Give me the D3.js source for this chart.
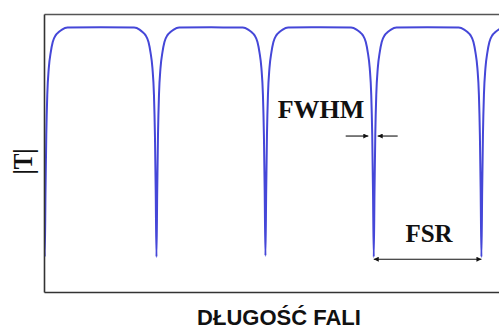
<!DOCTYPE html>
<html>
<head>
<meta charset="utf-8">
<script src="https://cdn.jsdelivr.net/npm/d3@7"></script>
<style>
  html, body { margin: 0; padding: 0; background: #fff; overflow: hidden; }
  svg { display: block; }
</style>
</head>
<body>
<svg id="chart" width="499" height="329"></svg>
<script>
// ---- data (arbitrary wavelength units, |T| 0..1) ----
const wavelength = [
  -0.176, -0.121, -0.094, -0.066, -0.048, -0.030, -0.016, -0.007, 0.000, 0.007, 0.014, 0.021, 0.030, 0.044, 0.062, 0.080, 0.108, 0.135, 0.165, 0.215,
  0.520,
  0.825, 0.875, 0.902, 0.929, 0.957, 0.975, 0.993, 1.007, 1.016, 1.023, 1.030, 1.037, 1.044, 1.053, 1.067, 1.085, 1.103, 1.131, 1.158, 1.188, 1.238,
  1.530,
  1.820, 1.870, 1.900, 1.927, 1.955, 1.973, 1.991, 2.005, 2.014, 2.021, 2.028, 2.035, 2.042, 2.051, 2.065, 2.083, 2.101, 2.129, 2.156, 2.186, 2.236,
  2.525,
  2.812, 2.862, 2.892, 2.919, 2.947, 2.965, 2.983, 2.997, 3.006, 3.013, 3.020, 3.027, 3.034, 3.043, 3.057, 3.075, 3.093, 3.121, 3.148, 3.178, 3.228,
  3.510,
  3.798, 3.848, 3.878, 3.905, 3.933, 3.951, 3.969, 3.983, 3.992, 3.999, 4.006, 4.013, 4.020, 4.029, 4.043, 4.061, 4.079, 4.107, 4.134, 4.164, 4.214,
  4.230
];
const transmission = [
  0.944, 0.935, 0.924, 0.899, 0.863, 0.806, 0.709, 0.565, 0.367, 0.126, 0.367, 0.565, 0.709, 0.806, 0.863, 0.899, 0.924, 0.935, 0.944, 0.951,
  0.952,
  0.951, 0.944, 0.935, 0.924, 0.899, 0.863, 0.806, 0.709, 0.565, 0.367, 0.126, 0.367, 0.565, 0.709, 0.806, 0.863, 0.899, 0.924, 0.935, 0.944, 0.951,
  0.952,
  0.951, 0.944, 0.935, 0.924, 0.899, 0.863, 0.806, 0.709, 0.565, 0.367, 0.130, 0.367, 0.565, 0.709, 0.806, 0.863, 0.899, 0.924, 0.935, 0.944, 0.951,
  0.952,
  0.951, 0.944, 0.935, 0.924, 0.899, 0.863, 0.806, 0.709, 0.565, 0.367, 0.126, 0.367, 0.565, 0.709, 0.806, 0.863, 0.899, 0.924, 0.935, 0.944, 0.951,
  0.952,
  0.951, 0.944, 0.935, 0.924, 0.899, 0.863, 0.806, 0.709, 0.565, 0.367, 0.126, 0.367, 0.565, 0.709, 0.806, 0.863, 0.899, 0.924, 0.935, 0.944, 0.951,
  0.952
];

// annotations (data units)
const fwhmLabel = "FWHM";
const fwhmAt = [2.537, 0.626];                 // label centre, baseline
const fwhmArrows = [[2.763, 2.970, 0.561],     // from, to (head), level
                    [3.239, 3.056, 0.561]];
const fsrLabel = "FSR";
const fsrAt = [3.526, 0.179];
const fsrSpan = [3.020, 4.006, 0.118];          // between two dips, level

const xLabel = "DŁUGOŚĆ FALI";
const yLabel = "|T|";
const xDomain = [0, 4.2];
const yDomain = [0, 1];

// ---- drawing ----
const svg = d3.select("#chart");
const x = d3.scaleLinear().domain(xDomain).range([44, 502.6]);
const y = d3.scaleLinear().domain(yDomain).range([292, 14]);

const defs = svg.append("defs");
defs.append("clipPath").attr("id", "plotclip")
  .append("rect")
  .attr("x", x(xDomain[0])).attr("y", y(yDomain[1]))
  .attr("width", x(xDomain[1]) - x(xDomain[0]))
  .attr("height", y(yDomain[0]) - y(yDomain[1]));

const mk = (id, orient) => defs.append("marker")
  .attr("id", id).attr("viewBox", "0 0 10 10")
  .attr("refX", 10).attr("refY", 5)
  .attr("markerWidth", 7).attr("markerHeight", 5)
  .attr("markerUnits", "userSpaceOnUse")
  .attr("orient", orient)
  .append("path").attr("d", "M0,0 L10,5 L0,10 Z").attr("fill", "#111");
mk("arrowEnd", "auto");
mk("arrowStart", "auto-start-reverse");

// curve
const pts = wavelength.map((w, i) => [w, transmission[i]]);
const line = d3.line().x(d => x(d[0])).y(d => y(d[1])).curve(d3.curveMonotoneX);
svg.append("path")
  .attr("clip-path", "url(#plotclip)")
  .attr("d", line(pts))
  .attr("fill", "none")
  .attr("stroke", "#4547d8")
  .attr("stroke-width", 2)
  .attr("stroke-linejoin", "round");

// frame (axes without ticks)
const frameStyle = g => {
  g.selectAll(".tick").remove();
  g.select(".domain").attr("stroke", "#333").attr("stroke-width", 1.6);
};
svg.append("g").attr("transform", `translate(0,${y(0)})`)
  .call(d3.axisBottom(x).ticks(0).tickSizeOuter(0)).call(frameStyle);
svg.append("g").attr("transform", `translate(0,${y(1)})`)
  .call(d3.axisTop(x).ticks(0).tickSizeOuter(0)).call(frameStyle)
  .select(".domain").attr("stroke", "#555").attr("stroke-width", 1.3);
svg.append("g").attr("transform", `translate(${x(0)},0)`)
  .call(d3.axisLeft(y).ticks(0).tickSizeOuter(0)).call(frameStyle);
svg.append("g").attr("transform", `translate(${x(xDomain[1])},0)`)
  .call(d3.axisRight(y).ticks(0).tickSizeOuter(0)).call(frameStyle);

// FWHM
svg.append("text")
  .attr("x", x(fwhmAt[0])).attr("y", y(fwhmAt[1]))
  .attr("text-anchor", "middle")
  .attr("font-family", "'Liberation Serif', 'Times New Roman', serif")
  .attr("font-weight", "bold").attr("font-size", 26)
  .attr("fill", "#111")
  .text(fwhmLabel);
svg.selectAll("line.fwhm").data(fwhmArrows).join("line")
  .attr("class", "fwhm")
  .attr("x1", d => x(d[0])).attr("x2", d => x(d[1]))
  .attr("y1", d => y(d[2])).attr("y2", d => y(d[2]))
  .attr("stroke", "#111").attr("stroke-width", 1.1)
  .attr("marker-end", "url(#arrowEnd)");

// FSR
svg.append("text")
  .attr("x", x(fsrAt[0])).attr("y", y(fsrAt[1]))
  .attr("text-anchor", "middle")
  .attr("font-family", "'Liberation Serif', 'Times New Roman', serif")
  .attr("font-weight", "bold").attr("font-size", 25)
  .attr("fill", "#111")
  .text(fsrLabel);
svg.append("line")
  .attr("x1", x(fsrSpan[0])).attr("x2", x(fsrSpan[1]))
  .attr("y1", y(fsrSpan[2])).attr("y2", y(fsrSpan[2]))
  .attr("stroke", "#111").attr("stroke-width", 1.1)
  .attr("marker-start", "url(#arrowStart)")
  .attr("marker-end", "url(#arrowEnd)");

// axis labels
svg.append("text")
  .attr("x", 279).attr("y", 324.5)
  .attr("text-anchor", "middle")
  .attr("font-family", "'Liberation Sans', Arial, sans-serif")
  .attr("font-weight", "bold").attr("font-size", 22)
  .attr("fill", "#111")
  .text(xLabel);
svg.append("text")
  .attr("transform", "translate(32,161.5) rotate(-90)")
  .attr("text-anchor", "middle")
  .attr("font-family", "'Liberation Serif', 'Times New Roman', serif")
  .attr("font-weight", "bold").attr("font-size", 28)
  .attr("textLength", 26).attr("lengthAdjust", "spacingAndGlyphs")
  .attr("fill", "#111")
  .text(yLabel);
</script>
</body>
</html>
